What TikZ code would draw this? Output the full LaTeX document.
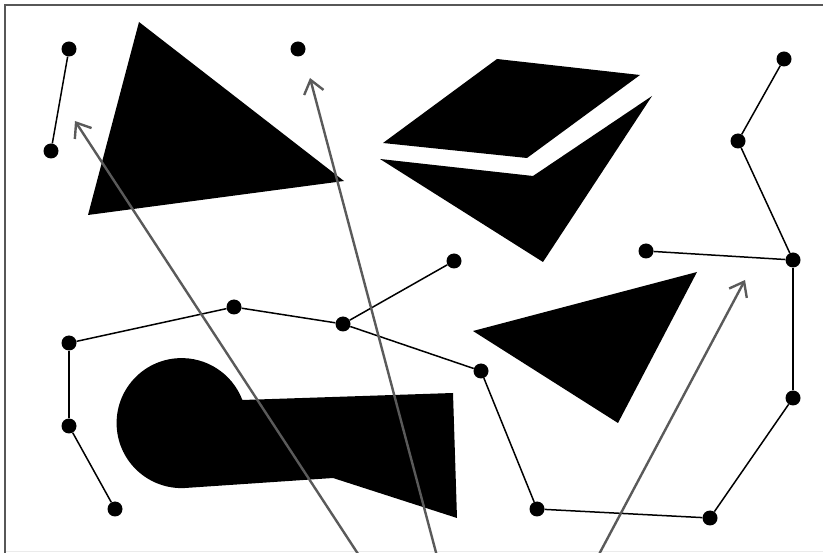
\documentclass[tikz,border=0pt]{standalone}
\usetikzlibrary{arrows.meta}
\definecolor{edgegray}{HTML}{575757}
\definecolor{pointergray}{HTML}{5A5A5A}
\begin{document}
\begin{tikzpicture}[
    x=1pt, y=-1pt,
    dot/.style={circle, fill=black, inner sep=0pt, minimum size=15pt},
    link/.style={black, line width=1.5pt},
    pointer/.style={draw=pointergray, line width=2.4pt, -{Straight Barb[length=13pt,width=20pt]}},
    blob/.style={fill=black}
]
\useasboundingbox (0,0) rectangle (823,553);
\clip (0,0) rectangle (823,553);
% frame
\draw[edgegray, line width=2pt] (5,560) -- (5,5) -- (830,5);
\draw[black!8, line width=1pt] (6,551.5) -- (830,551.5);

% black shapes
\fill[blob] (139,22) -- (344,181) -- (88,215) -- cycle;
\fill[blob] (497,59) -- (640,75) -- (527,158) -- (383,143) -- cycle;
\fill[blob] (380,159) -- (533,176) -- (652,96) -- (543,262) -- cycle;
\fill[blob] (473,331) -- (697,272) -- (618,423) -- cycle;
\fill[blob] (242,400) -- (453,393) -- (457,518) -- (333,478) -- (185,488)
    arc[start angle=87, end angle=339, radius=65] -- cycle;

% dots
\node[dot] (l1) at (69,49) {};
\node[dot] (l2) at (51,151) {};
\node[dot] (lone) at (298,49) {};
\node[dot] (r1) at (784,59) {};
\node[dot] (r2) at (738,141) {};
\node[dot] (r3) at (793,260) {};
\node[dot] (r4) at (646,251) {};
\node[dot] (r5) at (793,398) {};
\node[dot] (r6) at (710,518) {};
\node[dot] (r7) at (537,509) {};
\node[dot] (r8) at (481,371) {};
\node[dot] (r9) at (343,324) {};
\node[dot] (r10) at (454,261) {};
\node[dot] (r11) at (234,307) {};
\node[dot] (r12) at (69,343) {};
\node[dot] (r13) at (69,426) {};
\node[dot] (r14) at (115,509) {};

% links
\draw[link] (l1) -- (l2);
\draw[link] (r1) -- (r2);
\draw[link] (r2) -- (r3);
\draw[link] (r3) -- (r4);
\draw[link] (r3) -- (r5);
\draw[link] (r5) -- (r6);
\draw[link] (r6) -- (r7);
\draw[link] (r7) -- (r8);
\draw[link] (r8) -- (r9);
\draw[link] (r9) -- (r10);
\draw[link] (r9) -- (r11);
\draw[link] (r11) -- (r12);
\draw[link] (r12) -- (r13);
\draw[link] (r13) -- (r14);

% pointers from below
\coordinate (tipA) at (75,121);
\coordinate (tipB) at (310,78);
\coordinate (tipC) at (745,280);
\coordinate (tailA) at (362,560);
\coordinate (tailB) at (438,560);
\coordinate (tailC) at (596,560);
\draw[pointer] (tailA) -- (tipA);
\draw[pointer] (tailB) -- (tipB);
\draw[pointer] (tailC) -- (tipC);
\end{tikzpicture}
\end{document}
